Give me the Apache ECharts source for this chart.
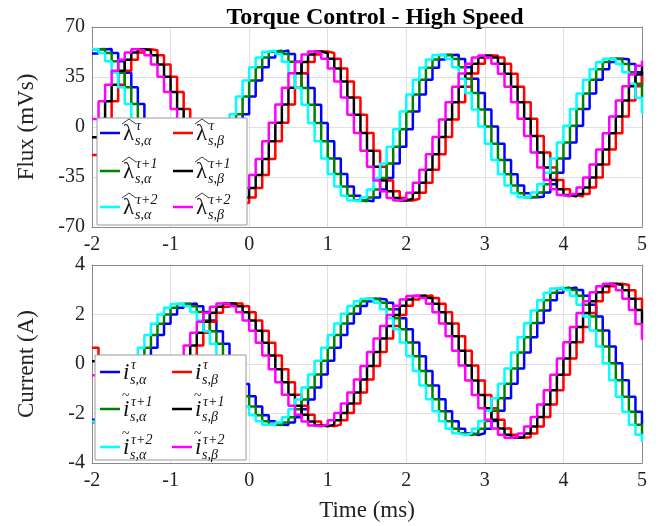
<!DOCTYPE html>
<html><head><meta charset="utf-8">
<script src="https://cdn.jsdelivr.net/npm/echarts@6/dist/echarts.min.js"></script>
<style>html,body{margin:0;padding:0;background:#fff}#c{width:670px;height:526px}</style>
</head><body><div id="c"></div>
<script>
// sample instants (ms), Ts = 1/12 ms
var time = [-2,-1.9167,-1.8333,-1.75,-1.6667,-1.5833,-1.5,-1.4167,-1.3333,-1.25,-1.1667,-1.0833,
  -1,-0.9167,-0.8333,-0.75,-0.6667,-0.5833,-0.5,-0.4167,-0.3333,-0.25,-0.1667,-0.0833,
  0,0.0833,0.1667,0.25,0.3333,0.4167,0.5,0.5833,0.6667,0.75,0.8333,0.9167,
  1,1.0833,1.1667,1.25,1.3333,1.4167,1.5,1.5833,1.6667,1.75,1.8333,1.9167,
  2,2.0833,2.1667,2.25,2.3333,2.4167,2.5,2.5833,2.6667,2.75,2.8333,2.9167,
  3,3.0833,3.1667,3.25,3.3333,3.4167,3.5,3.5833,3.6667,3.75,3.8333,3.9167,
  4,4.0833,4.1667,4.25,4.3333,4.4167,4.5,4.5833,4.6667,4.75,4.8333,4.9167,
  5];

// Flux (mVs)
var fluxAlphaT = [51.4,54.5,54.6,51.8,46.1,38.0,27.8,16.1,3.6,-9.1,-21.3,-32.3,
  -41.6,-48.5,-52.8,-54.3,-53.0,-49.2,-43.3,-35.3,-25.8,-15.1,-3.7,8.9,
  21.4,32.6,41.9,48.7,52.7,53.5,51.1,45.7,37.6,27.3,15.5,2.8,
  -10.0,-22.1,-32.9,-41.7,-48.1,-51.5,-52.0,-49.3,-43.8,-35.7,-25.5,-13.9,
  -1.5,10.9,22.7,33.0,41.4,47.3,50.4,50.5,47.6,41.9,33.8,23.8,
  12.3,0.3,-11.8,-23.1,-33.0,-40.9,-46.4,-49.1,-48.9,-45.8,-40.1,-32.0,
  -22.0,-10.9,0.9,12.6,23.5,33.0,40.4,45.5,47.8,47.4,44.1,38.3,
  30.2];
var fluxAlphaT1 = [54.5,54.6,51.8,46.1,38.0,27.8,16.1,3.6,-9.1,-21.3,-32.3,
  -41.6,-48.5,-52.8,-54.3,-53.0,-49.2,-43.3,-35.3,-25.8,-15.1,-3.7,8.9,
  21.4,32.6,41.9,48.7,52.7,53.5,51.1,45.7,37.6,27.3,15.5,2.8,
  -10.0,-22.1,-32.9,-41.7,-48.1,-51.5,-52.0,-49.3,-43.8,-35.7,-25.5,-13.9,
  -1.5,10.9,22.7,33.0,41.4,47.3,50.4,50.5,47.6,41.9,33.8,23.8,
  12.3,0.3,-11.8,-23.1,-33.0,-40.9,-46.4,-49.1,-48.9,-45.8,-40.1,-32.0,
  -22.0,-10.9,0.9,12.6,23.5,33.0,40.4,45.5,47.8,47.4,44.1,38.3,
  30.2,20.4];
var fluxAlphaT2 = [54.6,51.8,46.1,38.0,27.8,16.1,3.6,-9.1,-21.3,-32.3,
  -41.6,-48.5,-52.8,-54.3,-53.0,-49.2,-43.3,-35.3,-25.8,-15.1,-3.7,8.9,
  21.4,32.6,41.9,48.7,52.7,53.5,51.1,45.7,37.6,27.3,15.5,2.8,
  -10.0,-22.1,-32.9,-41.7,-48.1,-51.5,-52.0,-49.3,-43.8,-35.7,-25.5,-13.9,
  -1.5,10.9,22.7,33.0,41.4,47.3,50.4,50.5,47.6,41.9,33.8,23.8,
  12.3,0.3,-11.8,-23.1,-33.0,-40.9,-46.4,-49.1,-48.9,-45.8,-40.1,-32.0,
  -22.0,-10.9,0.9,12.6,23.5,33.0,40.4,45.5,47.8,47.4,44.1,38.3,
  30.2,20.4,9.4];
var fluxBetaT = [-19.6,-7.2,5.6,18.1,29.6,39.4,47.1,52.2,54.5,53.8,50.2,43.8,
  35.1,24.5,12.6,0.0,-11.5,-22.5,-32.5,-40.9,-47.4,-51.8,-53.8,-53.1,
  -49.4,-42.7,-33.6,-22.4,-10.0,3.0,15.8,27.5,37.7,45.5,50.7,52.8,
  51.8,47.8,41.0,31.8,20.7,8.5,-4.2,-16.6,-27.9,-37.5,-45.0,-49.7,
  -51.5,-50.2,-46.0,-39.1,-29.9,-19.0,-7.0,5.3,17.3,28.2,37.4,44.3,
  48.6,50.1,48.6,44.2,37.2,28.1,17.4,5.7,-6.3,-17.9,-28.4,-37.1,
  -43.6,-47.6,-48.7,-46.9,-42.4,-35.4,-26.3,-15.8,-4.3,7.3,18.5,28.5,
  36.8];
var fluxBetaT1 = [-7.2,5.6,18.1,29.6,39.4,47.1,52.2,54.5,53.8,50.2,43.8,
  35.1,24.5,12.6,0.0,-11.5,-22.5,-32.5,-40.9,-47.4,-51.8,-53.8,-53.1,
  -49.4,-42.7,-33.6,-22.4,-10.0,3.0,15.8,27.5,37.7,45.5,50.7,52.8,
  51.8,47.8,41.0,31.8,20.7,8.5,-4.2,-16.6,-27.9,-37.5,-45.0,-49.7,
  -51.5,-50.2,-46.0,-39.1,-29.9,-19.0,-7.0,5.3,17.3,28.2,37.4,44.3,
  48.6,50.1,48.6,44.2,37.2,28.1,17.4,5.7,-6.3,-17.9,-28.4,-37.1,
  -43.6,-47.6,-48.7,-46.9,-42.4,-35.4,-26.3,-15.8,-4.3,7.3,18.5,28.5,
  36.8,42.9];
var fluxBetaT2 = [5.6,18.1,29.6,39.4,47.1,52.2,54.5,53.8,50.2,43.8,
  35.1,24.5,12.6,0.0,-11.5,-22.5,-32.5,-40.9,-47.4,-51.8,-53.8,-53.1,
  -49.4,-42.7,-33.6,-22.4,-10.0,3.0,15.8,27.5,37.7,45.5,50.7,52.8,
  51.8,47.8,41.0,31.8,20.7,8.5,-4.2,-16.6,-27.9,-37.5,-45.0,-49.7,
  -51.5,-50.2,-46.0,-39.1,-29.9,-19.0,-7.0,5.3,17.3,28.2,37.4,44.3,
  48.6,50.1,48.6,44.2,37.2,28.1,17.4,5.7,-6.3,-17.9,-28.4,-37.1,
  -43.6,-47.6,-48.7,-46.9,-42.4,-35.4,-26.3,-15.8,-4.3,7.3,18.5,28.5,
  36.8,42.9,46.4];

// Current (A)
var curAlphaT = [-2.25,-2.35,-2.32,-2.16,-1.87,-1.47,-0.99,-0.45,0.11,0.66,1.17,1.63,
  2.00,2.27,2.42,2.44,2.33,2.10,1.76,1.32,0.82,0.27,-0.28,-0.81,
  -1.30,-1.72,-2.07,-2.31,-2.45,-2.46,-2.36,-2.15,-1.83,-1.43,-0.95,-0.42,
  0.13,0.66,1.17,1.64,2.03,2.34,2.54,2.64,2.61,2.47,2.21,1.85,
  1.40,0.87,0.31,-0.28,-0.87,-1.42,-1.91,-2.31,-2.62,-2.80,-2.87,-2.80,
  -2.62,-2.30,-1.89,-1.38,-0.80,-0.18,0.46,1.08,1.66,2.16,2.58,2.88,
  3.05,3.09,2.99,2.76,2.39,1.92,1.35,0.71,0.03,-0.66,-1.32,-1.93,
  -2.45];
var curAlphaT1 = [-2.35,-2.32,-2.16,-1.87,-1.47,-0.99,-0.45,0.11,0.66,1.17,1.63,
  2.00,2.27,2.42,2.44,2.33,2.10,1.76,1.32,0.82,0.27,-0.28,-0.81,
  -1.30,-1.72,-2.07,-2.31,-2.45,-2.46,-2.36,-2.15,-1.83,-1.43,-0.95,-0.42,
  0.13,0.66,1.17,1.64,2.03,2.34,2.54,2.64,2.61,2.47,2.21,1.85,
  1.40,0.87,0.31,-0.28,-0.87,-1.42,-1.91,-2.31,-2.62,-2.80,-2.87,-2.80,
  -2.62,-2.30,-1.89,-1.38,-0.80,-0.18,0.46,1.08,1.66,2.16,2.58,2.88,
  3.05,3.09,2.99,2.76,2.39,1.92,1.35,0.71,0.03,-0.66,-1.32,-1.93,
  -2.45,-2.86];
var curAlphaT2 = [-2.32,-2.16,-1.87,-1.47,-0.99,-0.45,0.11,0.66,1.17,1.63,
  2.00,2.27,2.42,2.44,2.33,2.10,1.76,1.32,0.82,0.27,-0.28,-0.81,
  -1.30,-1.72,-2.07,-2.31,-2.45,-2.46,-2.36,-2.15,-1.83,-1.43,-0.95,-0.42,
  0.13,0.66,1.17,1.64,2.03,2.34,2.54,2.64,2.61,2.47,2.21,1.85,
  1.40,0.87,0.31,-0.28,-0.87,-1.42,-1.91,-2.31,-2.62,-2.80,-2.87,-2.80,
  -2.62,-2.30,-1.89,-1.38,-0.80,-0.18,0.46,1.08,1.66,2.16,2.58,2.88,
  3.05,3.09,2.99,2.76,2.39,1.92,1.35,0.71,0.03,-0.66,-1.32,-1.93,
  -2.45,-2.86,-3.15];
var curBetaT = [0.66,0.11,-0.45,-0.99,-1.47,-1.87,-2.18,-2.36,-2.40,-2.32,-2.12,-1.80,
  -1.39,-0.90,-0.36,0.20,0.75,1.26,1.71,2.07,2.31,2.44,2.44,2.33,
  2.09,1.76,1.34,0.86,0.34,-0.21,-0.74,-1.24,-1.69,-2.05,-2.32,-2.48,
  -2.52,-2.45,-2.27,-1.98,-1.60,-1.15,-0.63,-0.08,0.48,1.03,1.54,1.98,
  2.35,2.61,2.75,2.77,2.67,2.43,2.09,1.64,1.12,0.54,-0.06,-0.67,
  -1.25,-1.79,-2.25,-2.61,-2.86,-2.98,-2.96,-2.81,-2.53,-2.14,-1.64,-1.06,
  -0.43,0.22,0.88,1.50,2.06,2.54,2.90,3.14,3.24,3.19,2.98,2.64,
  2.18];
var curBetaT1 = [0.11,-0.45,-0.99,-1.47,-1.87,-2.18,-2.36,-2.40,-2.32,-2.12,-1.80,
  -1.39,-0.90,-0.36,0.20,0.75,1.26,1.71,2.07,2.31,2.44,2.44,2.33,
  2.09,1.76,1.34,0.86,0.34,-0.21,-0.74,-1.24,-1.69,-2.05,-2.32,-2.48,
  -2.52,-2.45,-2.27,-1.98,-1.60,-1.15,-0.63,-0.08,0.48,1.03,1.54,1.98,
  2.35,2.61,2.75,2.77,2.67,2.43,2.09,1.64,1.12,0.54,-0.06,-0.67,
  -1.25,-1.79,-2.25,-2.61,-2.86,-2.98,-2.96,-2.81,-2.53,-2.14,-1.64,-1.06,
  -0.43,0.22,0.88,1.50,2.06,2.54,2.90,3.14,3.24,3.19,2.98,2.64,
  2.18,1.62];
var curBetaT2 = [-0.45,-0.99,-1.47,-1.87,-2.18,-2.36,-2.40,-2.32,-2.12,-1.80,
  -1.39,-0.90,-0.36,0.20,0.75,1.26,1.71,2.07,2.31,2.44,2.44,2.33,
  2.09,1.76,1.34,0.86,0.34,-0.21,-0.74,-1.24,-1.69,-2.05,-2.32,-2.48,
  -2.52,-2.45,-2.27,-1.98,-1.60,-1.15,-0.63,-0.08,0.48,1.03,1.54,1.98,
  2.35,2.61,2.75,2.77,2.67,2.43,2.09,1.64,1.12,0.54,-0.06,-0.67,
  -1.25,-1.79,-2.25,-2.61,-2.86,-2.98,-2.96,-2.81,-2.53,-2.14,-1.64,-1.06,
  -0.43,0.22,0.88,1.50,2.06,2.54,2.90,3.14,3.24,3.19,2.98,2.64,
  2.18,1.62,0.98];

var xTicks = [-2,-1,0,1,2,3,4,5];
var fluxTicks = [-70,-35,0,35,70];
var curTicks = [-4,-2,0,2,4];
var colors = ['#0000ff','#ff0000','#008000','#000000','#00ffff','#ff00ff'];
var fluxLegend = [['\u03bb','hat','\u03c4','s,\u03b1'],['\u03bb','hat','\u03c4','s,\u03b2'],
                  ['\u03bb','hat','\u03c4+1','s,\u03b1'],['\u03bb','hat','\u03c4+1','s,\u03b2'],
                  ['\u03bb','hat','\u03c4+2','s,\u03b1'],['\u03bb','hat','\u03c4+2','s,\u03b2']];
var curLegend = [['i','','\u03c4','s,\u03b1'],['i','','\u03c4','s,\u03b2'],
                 ['i','tilde','\u03c4+1','s,\u03b1'],['i','tilde','\u03c4+1','s,\u03b2'],
                 ['i','tilde','\u03c4+2','s,\u03b1'],['i','tilde','\u03c4+2','s,\u03b2']];

function pairs(t, v){ return t.map(function(x,i){return [x, v[i]];}); }
var serif = 'Liberation Serif';
var chart = echarts.init(document.getElementById('c'));
function xAxis(idx, showName){
  return {type:'value', gridIndex:idx, min:-2, max:5, interval:1,
    axisLine:{show:true,onZero:false,lineStyle:{color:'#8a8a8a',width:1}},
    axisTick:{show:false}, splitLine:{show:true,lineStyle:{color:'#e0e0e0'}},
    axisLabel:{color:'#222',fontFamily:serif,fontSize:20,margin:8},
    name: showName?'Time (ms)':'', nameLocation:'middle', nameGap:36,
    nameTextStyle:{color:'#222',fontFamily:serif,fontSize:23}};
}
function xAxisTop(idx){
  return {type:'value', gridIndex:idx, position:'top', min:-2, max:5,
    axisLine:{show:true,onZero:false,lineStyle:{color:'#8a8a8a'}}, axisTick:{show:false},
    axisLabel:{show:false}, splitLine:{show:false}};
}
function yAxisR(idx, mn, mx){
  return {type:'value', gridIndex:idx, position:'right', min:mn, max:mx,
    axisLine:{show:true,onZero:false,lineStyle:{color:'#8a8a8a'}}, axisTick:{show:false},
    axisLabel:{show:false}, splitLine:{show:false}};
}
function legendGraphics(box, rows, cols, spec){
  var g = [];
  g.push({type:'rect',shape:{x:box[0],y:box[1],width:box[2],height:box[3]},
    style:{fill:'#fff',stroke:'#9a9a9a',lineWidth:1},z:100});
  for (var i=0;i<6;i++){
    var r = Math.floor(i/2), c = i%2;
    var yc = rows[r], lx = cols[c];
    var s = spec[i];
    g.push({type:'line',shape:{x1:lx,y1:yc,x2:lx+20,y2:yc},style:{stroke:colors[i],lineWidth:2.5},z:101});
    var x0 = lx+23;
    var isL = s[0]==='\u03bb';
    g.push({type:'text',x:x0,y:yc+1,style:{text:s[0],font:(isL?'':'italic ')+'23px '+serif,fill:'#111',verticalAlign:'middle',align:'left'},z:102});
    var w = isL?12:7;
    if (s[1]==='hat'){
      g.push({type:'polyline',shape:{points:[[x0-1,yc-9],[x0+w/2,yc-14],[x0+w+1,yc-9]]},style:{stroke:'#222',lineWidth:0.9,fill:null},z:102});
    } else if (s[1]==='tilde'){
      g.push({type:'text',x:x0-1,y:yc-13,style:{text:'~',font:'14px '+serif,fill:'#222',verticalAlign:'middle',align:'left'},z:102});
    }
    g.push({type:'text',x:x0+w+1,y:yc-7,style:{text:s[2],font:'italic 14px '+serif,fill:'#111',verticalAlign:'middle',align:'left'},z:102});
    g.push({type:'text',x:x0+w,y:yc+8,style:{text:s[3],font:'italic 14px '+serif,fill:'#111',verticalAlign:'middle',align:'left'},z:102});
  }
  return g;
}
function mk(xi, yi, v, col){
  return {type:'line',xAxisIndex:xi,yAxisIndex:yi,step:'end',showSymbol:false,symbol:'none',
    data:pairs(time,v),lineStyle:{color:col,width:2.5},z:3};
}
var option = {
  animation:false,
  title:{text:'Torque Control - High Speed', left:370, textAlign:'center', top:1,
    textStyle:{fontFamily:serif,fontSize:24,fontWeight:'bold',color:'#000'}},
  grid:[{left:92,right:28,top:27,height:200},{left:92,right:28,top:265,height:198}],
  xAxis:[xAxis(0,false), xAxis(1,true), xAxisTop(0), xAxisTop(1)],
  yAxis:[
    {type:'value',gridIndex:0,min:-70,max:70,interval:35,
     axisLine:{show:true,onZero:false,lineStyle:{color:'#8a8a8a'}},axisTick:{show:false},
     splitLine:{show:true,lineStyle:{color:'#e0e0e0'}},
     axisLabel:{color:'#222',fontFamily:serif,fontSize:20,margin:7},
     name:'Flux (mVs)',nameLocation:'middle',nameGap:54,nameTextStyle:{color:'#222',fontFamily:serif,fontSize:23}},
    {type:'value',gridIndex:1,min:-4,max:4,interval:2,
     axisLine:{show:true,onZero:false,lineStyle:{color:'#8a8a8a'}},axisTick:{show:false},
     splitLine:{show:true,lineStyle:{color:'#e0e0e0'}},
     axisLabel:{color:'#222',fontFamily:serif,fontSize:20,margin:7},
     name:'Current (A)',nameLocation:'middle',nameGap:54,nameTextStyle:{color:'#222',fontFamily:serif,fontSize:23}},
    yAxisR(0,-70,70), yAxisR(1,-4,4)
  ],
  graphic: legendGraphics([97,118,150,107],[133,171,207],[100,173],fluxLegend)
    .concat(legendGraphics([95,355,151,105],[372,409,447],[100,172],curLegend)),
  series:[
    mk(0,0,fluxAlphaT,colors[0]), mk(0,0,fluxBetaT,colors[1]),
    mk(0,0,fluxAlphaT1,colors[2]), mk(0,0,fluxBetaT1,colors[3]),
    mk(0,0,fluxAlphaT2,colors[4]), mk(0,0,fluxBetaT2,colors[5]),
    mk(1,1,curAlphaT,colors[0]), mk(1,1,curBetaT,colors[1]),
    mk(1,1,curAlphaT1,colors[2]), mk(1,1,curBetaT1,colors[3]),
    mk(1,1,curAlphaT2,colors[4]), mk(1,1,curBetaT2,colors[5])
  ]
};
chart.setOption(option);
</script></body></html>
